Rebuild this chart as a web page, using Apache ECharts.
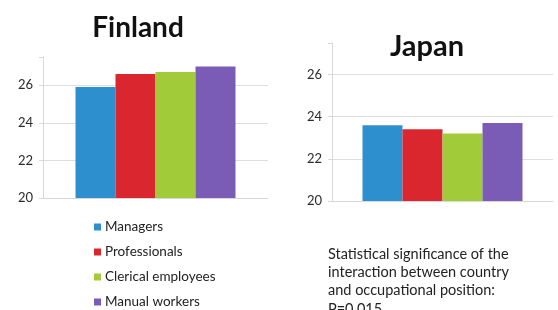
<!DOCTYPE html>
<html lang="en">
<head>
    <meta charset="utf-8">
    <script src="https://cdn.jsdelivr.net/npm/echarts@6/dist/echarts.min.js"></script>
    <style>
        html, body { margin: 0; padding: 0; background: #fff; }
        #main { width: 558px; height: 310px; }
    </style>
</head>
<body>
<div id="main"></div>
<script type="text/javascript">
    var groups = ['Managers', 'Professionals', 'Clerical employees', 'Manual workers'];
    var colors = ['#2e8fcf', '#d9262f', '#a2cb3a', '#7a5cb6'];
    var finland = [25.9, 26.6, 26.7, 27.0];
    var japan = [23.6, 23.4, 23.2, 23.7];
    var countries = ['Finland', 'Japan'];
    var noteLines = ['Statistical significance of the', 'interaction between country',
                     'and occupational position:', 'P=0.015'];

    var font = 'Lato, "Open Sans", sans-serif';
    var chart = echarts.init(document.getElementById('main'));

    function yAxisFor(idx){
        return {
            type: 'value', gridIndex: idx, min: 20, max: 27.5, interval: 2,
            axisLine: { show: true, lineStyle: { color: '#d8d8d8' } },
            axisTick: { show: true, inside: false, length: 4, lineStyle: { color: '#d8d8d8' } },
            axisLabel: {
                margin: 10, color: '#2a2a2a', fontSize: 13, fontFamily: font,
                formatter: function(v){ return v % 2 === 0 ? String(v) : ''; }
            },
            // last line (the 27.5 top edge) kept invisible
            splitLine: { show: true, lineStyle: { color: ['#dedede', '#dedede', '#dedede', '#dedede', 'rgba(0,0,0,0)'] } }
        };
    }
    function xAxisFor(idx){
        return {
            type: 'category', gridIndex: idx, data: [countries[idx]],
            axisLine: { show: true, lineStyle: { color: '#d8d8d8' } },
            axisTick: { show: false },
            axisLabel: { show: false }
        };
    }

    var series = [];
    [finland, japan].forEach(function(vals, g){
        for (var i = 0; i < groups.length; i++) {
            series.push({
                name: groups[i], type: 'bar', xAxisIndex: g, yAxisIndex: g,
                data: [vals[i]], barWidth: 40, barGap: '0%',
                itemStyle: { color: colors[i] }
            });
        }
    });

    chart.setOption({
        animation: false,
        color: colors,
        title: [
            { text: countries[0], left: 133, top: 9, textAlign: 'center',
              textStyle: { fontSize: 28, fontWeight: 'bold', color: '#111', fontFamily: font } },
            { text: countries[1], left: 422, top: 27, textAlign: 'center',
              textStyle: { fontSize: 29, fontWeight: 'bold', color: '#111', fontFamily: font } },
            { text: noteLines.join('\n'), left: 328, top: 245, padding: 0,
              textStyle: { fontSize: 14.5, fontWeight: 'normal', color: '#222', fontFamily: font, lineHeight: 18.3 } }
        ],
        legend: {
            orient: 'vertical', left: 94, top: 220, itemGap: 11, padding: 0, height: 120,
            icon: 'rect', itemWidth: 7, itemHeight: 7,
            data: groups,
            textStyle: { fontSize: 13.5, color: '#222', fontFamily: font, padding: [0, 0, 0, -1] }
        },
        grid: [
            { left: 43, right: 290, top: 57, bottom: 112 },
            { left: 332, right: 5, top: 43, bottom: 109 }
        ],
        xAxis: [xAxisFor(0), xAxisFor(1)],
        yAxis: [yAxisFor(0), yAxisFor(1)],
        series: series
    });
</script>
</body>
</html>
